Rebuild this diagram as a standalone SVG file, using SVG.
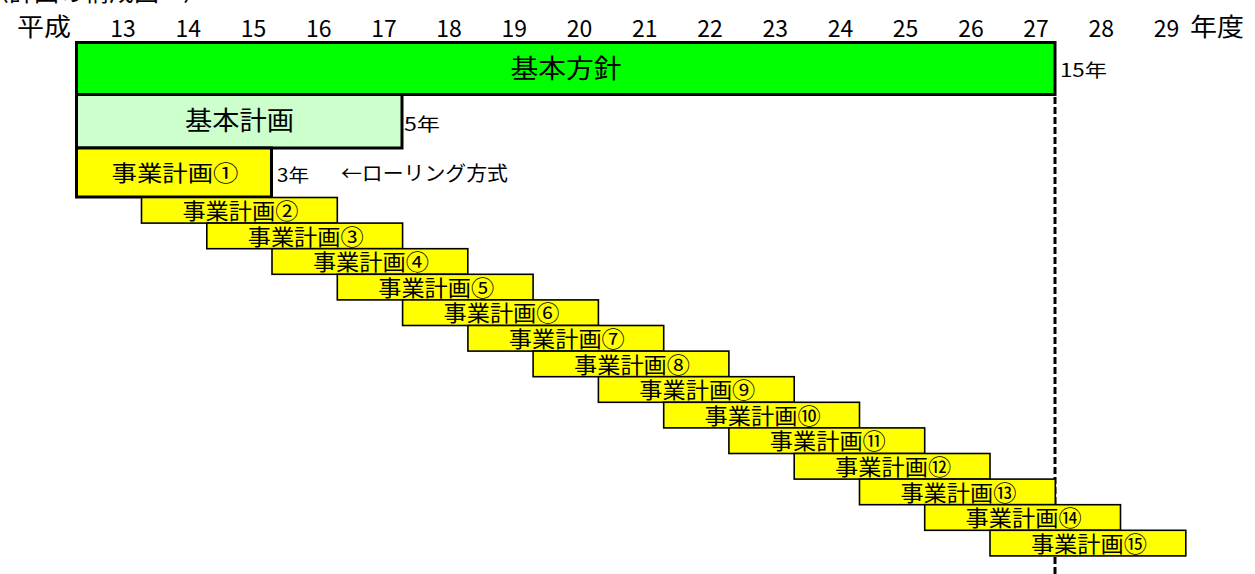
<svg xmlns="http://www.w3.org/2000/svg" width="1255" height="574" viewBox="0 0 1255 574">
<style>
text{font-family:"Noto Sans CJK JP","Noto Sans",sans-serif;fill:#000}
.hd{font-size:23px;text-anchor:middle}
.hk{font-size:25px}
.big{font-size:26px;text-anchor:middle}
.lbl{font-size:22px;text-anchor:middle}
.sm{font-size:18px}
.thick{stroke:#000;stroke-width:3}
.plan{fill:#ffff00;stroke:#000;stroke-width:1.6}
</style>
<rect width="1255" height="574" fill="#ffffff"/>
<g id="title">
<text class="hk" x="-16" y="0.5">〈計画の構成図<tspan x="183">〉</tspan></text>
</g>
<g id="axis">
<text class="hk" x="17" y="36" textLength="54" lengthAdjust="spacingAndGlyphs">平成</text>
<text class="hd" x="123" y="37">13</text>
<text class="hd" x="188.2" y="37">14</text>
<text class="hd" x="253.4" y="37">15</text>
<text class="hd" x="318.7" y="37">16</text>
<text class="hd" x="383.9" y="37">17</text>
<text class="hd" x="449.1" y="37">18</text>
<text class="hd" x="514.3" y="37">19</text>
<text class="hd" x="579.5" y="37">20</text>
<text class="hd" x="644.8" y="37">21</text>
<text class="hd" x="710" y="37">22</text>
<text class="hd" x="775.2" y="37">23</text>
<text class="hd" x="840.4" y="37">24</text>
<text class="hd" x="905.6" y="37">25</text>
<text class="hd" x="970.9" y="37">26</text>
<text class="hd" x="1036.1" y="37">27</text>
<text class="hd" x="1101.3" y="37">28</text>
<text class="hd" x="1166.5" y="37">29</text>
<text class="hk" x="1190" y="36" textLength="54" lengthAdjust="spacingAndGlyphs">年度</text>
</g>
<g id="connectors">
<line x1="1055" y1="97" x2="1055" y2="574" stroke="#000" stroke-width="3" stroke-dasharray="7 3"/>
</g>
<g id="kihon-houshin">
<rect x="76.5" y="42.5" width="978.5" height="52" fill="#00ff00" class="thick"/>
<text class="big" x="566" y="78" textLength="111" lengthAdjust="spacingAndGlyphs">基本方針</text>
<text class="sm" x="1060" y="77" textLength="47" lengthAdjust="spacingAndGlyphs">15年</text>
</g>
<g id="kihon-keikaku">
<rect x="76.5" y="94.5" width="325.5" height="53.5" fill="#ccffcc" class="thick"/>
<text class="big" x="239.5" y="130" textLength="109" lengthAdjust="spacingAndGlyphs">基本計画</text>
<text class="sm" x="404" y="131" textLength="36" lengthAdjust="spacingAndGlyphs">5年</text>
</g>
<g id="plan1">
<rect x="76.5" y="148" width="195" height="49" fill="#ffff00" class="thick"/>
<text class="lbl" x="175" y="180.5" textLength="127" lengthAdjust="spacingAndGlyphs">事業計画①</text>
<text class="sm" x="277" y="182" textLength="32" lengthAdjust="spacingAndGlyphs">3年</text>
<text x="341" y="181" font-size="20" textLength="167" lengthAdjust="spacingAndGlyphs">←ローリング方式</text>
</g>
<g id="plan2"><rect class="plan" x="141.5" y="197.5" width="195.8" height="25.6"/><text class="lbl" x="240.4" y="219" textLength="116" lengthAdjust="spacingAndGlyphs">事業計画②</text></g>
<g id="plan3"><rect class="plan" x="206.8" y="223.1" width="195.8" height="25.6"/><text class="lbl" x="305.7" y="244.6" textLength="116" lengthAdjust="spacingAndGlyphs">事業計画③</text></g>
<g id="plan4"><rect class="plan" x="272" y="248.7" width="195.8" height="25.6"/><text class="lbl" x="370.9" y="270.2" textLength="116" lengthAdjust="spacingAndGlyphs">事業計画④</text></g>
<g id="plan5"><rect class="plan" x="337.3" y="274.3" width="195.8" height="25.6"/><text class="lbl" x="436.2" y="295.8" textLength="116" lengthAdjust="spacingAndGlyphs">事業計画⑤</text></g>
<g id="plan6"><rect class="plan" x="402.6" y="299.9" width="195.8" height="25.6"/><text class="lbl" x="501.5" y="321.4" textLength="116" lengthAdjust="spacingAndGlyphs">事業計画⑥</text></g>
<g id="plan7"><rect class="plan" x="467.9" y="325.5" width="195.8" height="25.6"/><text class="lbl" x="566.8" y="347" textLength="116" lengthAdjust="spacingAndGlyphs">事業計画⑦</text></g>
<g id="plan8"><rect class="plan" x="533.1" y="351.1" width="195.8" height="25.6"/><text class="lbl" x="632" y="372.6" textLength="116" lengthAdjust="spacingAndGlyphs">事業計画⑧</text></g>
<g id="plan9"><rect class="plan" x="598.4" y="376.7" width="195.8" height="25.6"/><text class="lbl" x="697.3" y="398.2" textLength="116" lengthAdjust="spacingAndGlyphs">事業計画⑨</text></g>
<g id="plan10"><rect class="plan" x="663.7" y="402.3" width="195.8" height="25.6"/><text class="lbl" x="762.6" y="423.8" textLength="116" lengthAdjust="spacingAndGlyphs">事業計画⑩</text></g>
<g id="plan11"><rect class="plan" x="728.9" y="427.9" width="195.8" height="25.6"/><text class="lbl" x="827.8" y="449.4" textLength="116" lengthAdjust="spacingAndGlyphs">事業計画⑪</text></g>
<g id="plan12"><rect class="plan" x="794.2" y="453.5" width="195.8" height="25.6"/><text class="lbl" x="893.1" y="475" textLength="116" lengthAdjust="spacingAndGlyphs">事業計画⑫</text></g>
<g id="plan13"><rect class="plan" x="859.5" y="479.1" width="195.8" height="25.6"/><text class="lbl" x="958.4" y="500.6" textLength="116" lengthAdjust="spacingAndGlyphs">事業計画⑬</text></g>
<g id="plan14"><rect class="plan" x="924.7" y="504.7" width="195.8" height="25.6"/><text class="lbl" x="1023.6" y="526.2" textLength="116" lengthAdjust="spacingAndGlyphs">事業計画⑭</text></g>
<g id="plan15"><rect class="plan" x="990" y="530.3" width="195.8" height="25.6"/><text class="lbl" x="1088.9" y="551.8" textLength="116" lengthAdjust="spacingAndGlyphs">事業計画⑮</text></g>
</svg>
